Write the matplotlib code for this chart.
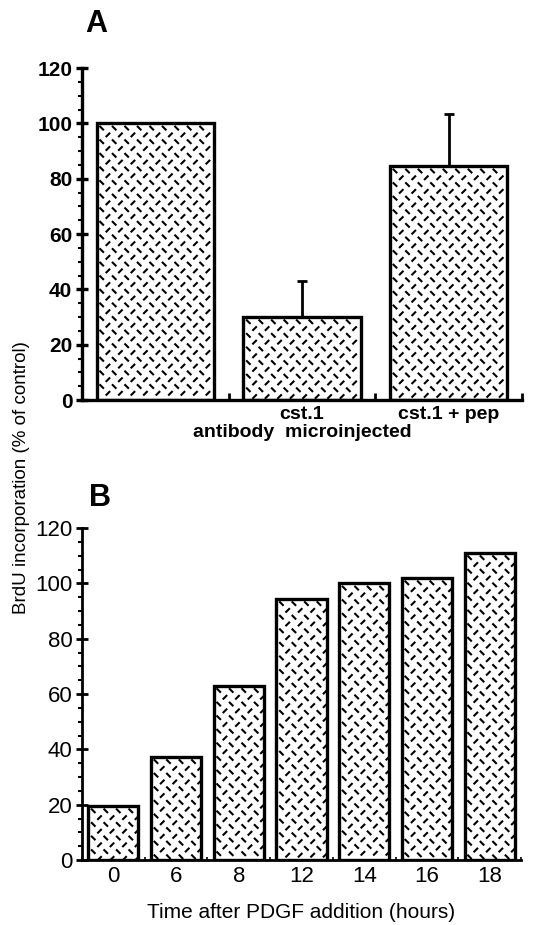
import numpy as np
import matplotlib
matplotlib.use("Agg")
import matplotlib.pyplot as plt
from matplotlib.collections import LineCollection
from matplotlib.ticker import MultipleLocator, FixedLocator
from matplotlib.transforms import IdentityTransform

plt.rcParams['font.family'] = ['Liberation Sans', 'DejaVu Sans']

# panel A: antibody microinjection
a_labels = ['', 'cst.1', 'cst.1 + pep']
a_values = [100, 30, 84.5]
a_err_up = [0, 13, 19]

# panel B: time course after PDGF
b_labels = ['0', '6', '8', '12', '14', '16', '18']
b_values = [19.5, 37.3, 63, 94.4, 100, 101.9, 111]

W, H = 536, 925
fig = plt.figure(figsize=(W / 100, H / 100), dpi=100)

axA = fig.add_axes([82 / W, 1 - 400 / H, 440 / W, 332 / H])
axB = fig.add_axes([82 / W, 1 - 860 / H, 439 / W, 332 / H])


def dash_fill(ax, bars, pitch=12.5, row=6.8, half=2.2):
    # short diagonal dashes alternating direction by row, clipped to each bar
    fig.canvas.draw()
    for b in bars:
        x0, y0 = ax.transData.transform((b.get_x(), 0))
        x1, y1 = ax.transData.transform((b.get_x() + b.get_width(), b.get_height()))
        segs = []
        k = 0
        y = y1 - row * 0.7
        while y > y0:
            off = 0 if k % 2 == 0 else pitch / 2
            x = x0 + 5 + off
            while x < x1:
                if k % 2 == 0:
                    segs.append([(x - half, y + half), (x + half, y - half)])
                else:
                    segs.append([(x - half, y - half), (x + half, y + half)])
                x += pitch
            y -= row
            k += 1
        lc = LineCollection(segs, colors='black', linewidths=1.5,
                            transform=IdentityTransform(), capstyle='butt')
        lc.set_clip_path(b)
        ax.add_collection(lc)


def style_axis(ax, major_len, lw):
    for s in ['top', 'right']:
        ax.spines[s].set_visible(False)
    for s in ['left', 'bottom']:
        ax.spines[s].set_linewidth(lw)
    ax.set_ylim(0, 120)
    ax.yaxis.set_major_locator(MultipleLocator(20))
    ax.yaxis.set_minor_locator(MultipleLocator(5))
    ax.tick_params(axis='y', which='major', direction='inout', length=major_len, width=lw)
    ax.tick_params(axis='y', which='minor', direction='out', length=3, width=1.5)


# ---- panel A
xa = np.arange(len(a_values))
barsA = axA.bar(xa, a_values, width=0.8, facecolor='white', edgecolor='black',
                linewidth=2.4, zorder=2)
axA.errorbar(xa[1:], a_values[1:], yerr=[np.zeros(2), a_err_up[1:]], fmt='none',
             ecolor='black', elinewidth=2, capsize=3.5, capthick=2, zorder=1)
axA.set_xlim(-0.5, 2.5)
style_axis(axA, 8, 2.4)
axA.set_xticks(xa)
axA.set_xticklabels(a_labels, fontsize=14, fontweight='bold')
axA.xaxis.set_minor_locator(FixedLocator([0.5, 1.5, 2.5]))
axA.tick_params(axis='x', which='major', length=0, pad=4)
axA.tick_params(axis='x', which='minor', direction='in', length=5, width=2)
axA.tick_params(axis='y', labelsize=15, pad=3)
for t in axA.get_yticklabels():
    t.set_fontweight('bold')
axA.set_xlabel('antibody  microinjected', fontsize=14, fontweight='bold', labelpad=1)

# ---- panel B
xb = np.arange(len(b_values))
barsB = axB.bar(xb, b_values, width=0.8, facecolor='white', edgecolor='black',
                linewidth=2.4, zorder=2)
axB.set_xlim(-0.5, 6.5)
style_axis(axB, 8, 2.0)
axB.set_xticks(xb)
axB.set_xticklabels(b_labels, fontsize=16)
axB.xaxis.set_minor_locator(MultipleLocator(0.25))
axB.tick_params(axis='x', which='major', length=0, pad=4)
axB.tick_params(axis='x', which='minor', direction='in', length=2, width=1.2)
axB.tick_params(axis='y', labelsize=16, pad=3)
axB.set_xlabel('Time after PDGF addition (hours)', fontsize=15, labelpad=12)

dash_fill(axA, barsA)
dash_fill(axB, barsB)

fig.text(85 / W, 1 - 24 / H, 'A', fontsize=22, fontweight='heavy', va='center', ha='left')
fig.text(89 / W, 1 - 498 / H, 'B', fontsize=22, fontweight='heavy', va='center', ha='left')
fig.text(22 / W, 1 - 478 / H, 'BrdU incorporation (% of control)', fontsize=13.5,
         rotation=90, va='center', ha='center')

fig.savefig('out.png', dpi=100)
